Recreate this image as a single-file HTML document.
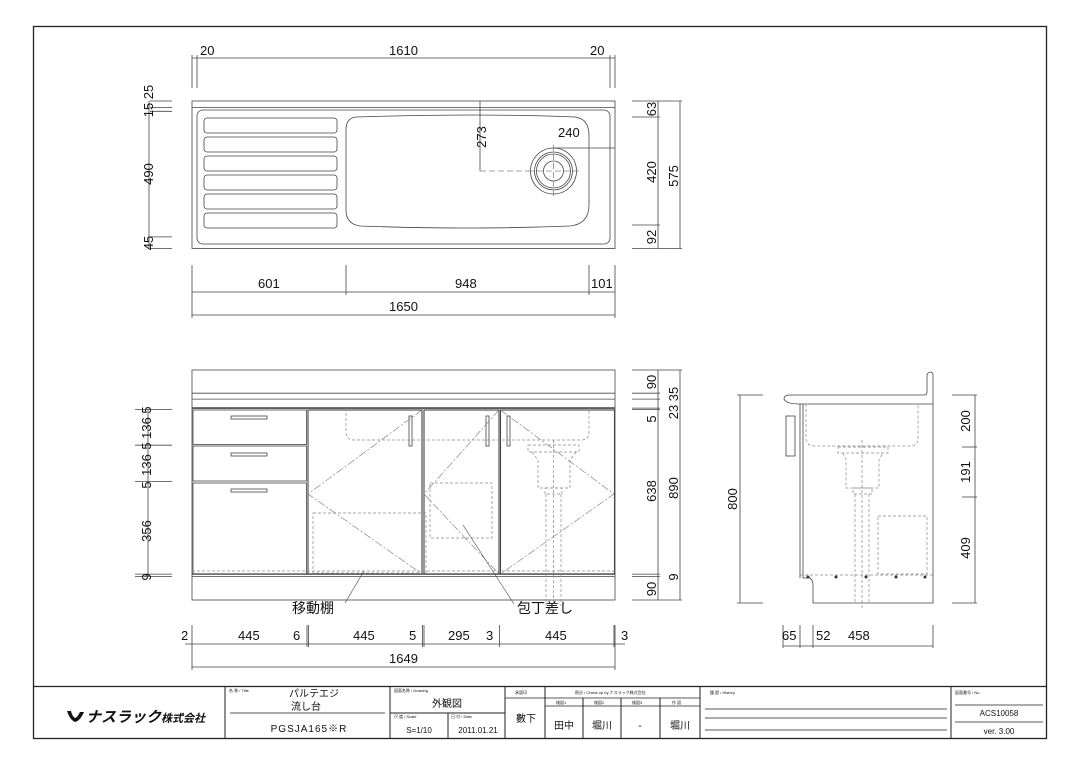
<!DOCTYPE html>
<html><head><meta charset="utf-8"><style>
html,body{margin:0;padding:0;background:#fff;}
svg{display:block;}
text{font-family:"Liberation Sans","Noto Sans CJK JP",sans-serif;fill:#111;}
.d{font-size:13px;}
.s{font-size:4px;fill:#555;}
</style></head><body>
<svg width="1080" height="764" viewBox="0 0 1080 764" xmlns="http://www.w3.org/2000/svg">
<rect x="0" y="0" width="1080" height="764" fill="#fff"/>
<rect x="33.5" y="26.5" width="1013" height="712" fill="none" stroke="#222" stroke-width="1.3"/>

<g stroke="#444" fill="none" stroke-width="0.8">
<!-- TOP VIEW -->
<rect x="192" y="101" width="423" height="147.5"/>
<line x1="192" y1="107.4" x2="615" y2="107.4"/>
<rect x="197" y="110" width="413" height="134" rx="6"/>
<rect x="204" y="118" width="133" height="15" rx="3"/>
<rect x="204" y="137" width="133" height="15" rx="3"/>
<rect x="204" y="156" width="133" height="15" rx="3"/>
<rect x="204" y="175" width="133" height="15" rx="3"/>
<rect x="204" y="194" width="133" height="15" rx="3"/>
<rect x="204" y="213" width="133" height="15" rx="3"/>
<path d="M356 117 Q480 113 575 117 Q589 119 589 135 L589 205 Q589 224 570 226 Q470 230 360 226 Q346 224 346 210 L346 130 Q346 118 356 117 Z"/>
<circle cx="553.5" cy="171" r="23"/>
<circle cx="553.5" cy="171" r="19"/>
<circle cx="553.5" cy="171" r="17"/>
<circle cx="553.5" cy="171" r="10"/>
<line x1="480" y1="171" x2="530" y2="171" stroke-dasharray="6 3" stroke="#888"/>
<line x1="528" y1="171" x2="580" y2="171" stroke-dasharray="6 3" stroke="#888"/>
<line x1="553.5" y1="145" x2="553.5" y2="198" stroke-dasharray="6 3" stroke="#888"/>
<!-- top dims -->
<line x1="192" y1="58" x2="615" y2="58"/>
<line x1="192" y1="55" x2="192" y2="88"/><line x1="197" y1="55" x2="197" y2="88"/>
<line x1="610" y1="55" x2="610" y2="88"/><line x1="615" y1="55" x2="615" y2="88"/>
<line x1="480" y1="101" x2="480" y2="171"/>
<line x1="553.5" y1="148" x2="615" y2="148"/>
<!-- left dims -->
<line x1="150" y1="101" x2="172" y2="101"/>
<line x1="150" y1="107.4" x2="172" y2="107.4"/>
<line x1="150" y1="111.3" x2="172" y2="111.3"/>
<line x1="150" y1="236.9" x2="172" y2="236.9"/>
<line x1="150" y1="248.5" x2="172" y2="248.5"/>
<line x1="149" y1="101" x2="149" y2="248.5"/>
<!-- right dims -->
<line x1="632" y1="101" x2="682" y2="101"/>
<line x1="632" y1="117" x2="660" y2="117"/>
<line x1="632" y1="225" x2="660" y2="225"/>
<line x1="632" y1="248.5" x2="682" y2="248.5"/>
<line x1="658" y1="101" x2="658" y2="248.5"/>
<line x1="680" y1="101" x2="680" y2="248.5"/>
<!-- bottom dims -->
<line x1="192" y1="265" x2="192" y2="318"/>
<line x1="346" y1="265" x2="346" y2="295"/>
<line x1="589" y1="265" x2="589" y2="295"/>
<line x1="615" y1="265" x2="615" y2="318"/>
<line x1="192" y1="292" x2="615" y2="292"/>
<line x1="192" y1="315" x2="615" y2="315"/>

<!-- FRONT VIEW -->
<rect x="192" y="370" width="423" height="230"/>
<line x1="192" y1="393.2" x2="615" y2="393.2"/>
<line x1="192" y1="399.1" x2="615" y2="399.1"/>
<line x1="192" y1="408.1" x2="615" y2="408.1" stroke-width="1.6"/>
<line x1="192" y1="574.1" x2="615" y2="574.1" stroke-width="1.4"/>
<line x1="192" y1="576.4" x2="615" y2="576.4"/>
<rect x="193" y="410" width="113.5" height="34.5"/>
<rect x="193" y="446" width="113.5" height="35"/>
<rect x="193" y="483" width="113.5" height="91"/>
<rect x="231" y="416" width="36" height="3"/><rect x="231" y="453" width="36" height="3"/><rect x="231" y="489" width="36" height="3"/>
<rect x="308" y="410" width="114" height="164" stroke-width="1.1"/>
<rect x="424" y="410" width="75" height="164" stroke-width="1.1"/>
<rect x="500.5" y="410" width="114" height="164" stroke-width="1.1"/>
<rect x="409" y="416" width="3" height="30"/>
<rect x="486" y="416" width="3" height="30"/>
<rect x="507" y="416" width="3" height="30"/>
<g stroke="#777" stroke-width="0.6" stroke-dasharray="8 2 2 2">
<polyline points="422,410 308,494 422,574"/>
<polyline points="499,410 424,494 499,574"/>
<polyline points="500.5,410 614,494 500.5,574"/>
</g>
<g stroke="#888" stroke-width="0.7" stroke-dasharray="3 2">
<path d="M346 408 L346 432 Q346 440 354 440 L581 440 Q589 440 589 432 L589 408"/>
<rect x="528" y="445" width="51" height="7"/>
<path d="M532 452 L538 460 L538 488 L570 488 L570 460 L576 452"/>
<rect x="545" y="488" width="17" height="6"/>
<line x1="546" y1="494" x2="546" y2="606"/><line x1="561" y1="494" x2="561" y2="606"/>
<line x1="553.5" y1="440" x2="553.5" y2="606"/>
<rect x="313" y="513" width="113" height="60"/>
<rect x="430" y="483" width="62" height="55"/>
<line x1="192" y1="571" x2="615" y2="571"/>
</g>
<line x1="364" y1="571" x2="345" y2="603" stroke-width="0.6"/>
<line x1="463" y1="525" x2="514" y2="604" stroke-width="0.6"/>
<line x1="148" y1="409.4" x2="148" y2="576.4"/>
<line x1="135" y1="409.4" x2="172" y2="409.4"/>
<line x1="135" y1="445.2" x2="172" y2="445.2"/>
<line x1="135" y1="481.6" x2="172" y2="481.6"/>
<line x1="135" y1="574.1" x2="172" y2="574.1"/>
<line x1="135" y1="576.4" x2="172" y2="576.4"/>
<line x1="632" y1="370" x2="682" y2="370"/>
<line x1="632" y1="393.2" x2="660" y2="393.2"/>
<line x1="632" y1="399.1" x2="660" y2="399.1"/>
<line x1="632" y1="408.1" x2="660" y2="408.1"/>
<line x1="632" y1="409.4" x2="660" y2="409.4"/>
<line x1="632" y1="574.1" x2="660" y2="574.1"/>
<line x1="632" y1="576.4" x2="660" y2="576.4"/>
<line x1="632" y1="600" x2="682" y2="600"/>
<line x1="658" y1="370" x2="658" y2="600"/>
<line x1="680" y1="370" x2="680" y2="600"/>
<line x1="185" y1="644" x2="625" y2="644"/>
<line x1="192" y1="667" x2="615" y2="667"/>
<line x1="192" y1="625" x2="192" y2="670"/>
<line x1="307" y1="625" x2="307" y2="647"/><line x1="308.5" y1="625" x2="308.5" y2="647"/>
<line x1="422.5" y1="625" x2="422.5" y2="647"/><line x1="424" y1="625" x2="424" y2="647"/>
<line x1="499.5" y1="625" x2="499.5" y2="647"/>
<line x1="614" y1="625" x2="614" y2="647"/><line x1="615" y1="625" x2="615" y2="670"/>

<!-- SIDE VIEW -->
<path d="M790 395 L924 395 Q927 395 927 392 L927 375 Q928 372 931 372 Q933 373 933 375 L933 404 L800 404 Q786 404 784 399 Q784 395 790 395 Z"/>
<line x1="800" y1="404" x2="800" y2="578"/>
<line x1="803" y1="404" x2="803" y2="578"/>
<path d="M803 578 L810 578 Q813 580 813 585 L813 603 L933 603 L933 404"/>
<rect x="786" y="416" width="9" height="40"/>
<g stroke="#888" stroke-width="0.7" stroke-dasharray="3 2">
<path d="M806 404 L806 438 Q806 446 815 446 L910 446 Q918 446 918 438 L918 404"/>
<rect x="838" y="447" width="50" height="6"/>
<path d="M843 453 L846 460 L846 488 L879 488 L879 460 L883 453"/>
<rect x="853" y="488" width="19" height="6"/>
<line x1="855" y1="494" x2="855" y2="603"/><line x1="869" y1="494" x2="869" y2="603"/>
<line x1="862" y1="440" x2="862" y2="610"/>
<rect x="878" y="516" width="49" height="58"/>
<line x1="800" y1="575" x2="933" y2="575"/>
</g>
<g fill="#333" stroke="none">
<circle cx="808" cy="577" r="1.5"/><circle cx="836" cy="577" r="1.5"/><circle cx="866" cy="577" r="1.5"/><circle cx="896" cy="577" r="1.5"/><circle cx="925" cy="577" r="1.5"/>
</g>
<line x1="740" y1="395" x2="740" y2="603"/>
<line x1="737" y1="395" x2="763" y2="395"/><line x1="737" y1="603" x2="763" y2="603"/>
<line x1="975" y1="395" x2="975" y2="603"/>
<line x1="952" y1="395" x2="977" y2="395"/>
<line x1="962" y1="447" x2="977" y2="447"/>
<line x1="962" y1="497" x2="977" y2="497"/>
<line x1="952" y1="603" x2="977" y2="603"/>
<line x1="783" y1="646" x2="933" y2="646"/>
<line x1="783" y1="625" x2="783" y2="648"/>
<line x1="800" y1="625" x2="800" y2="648"/>
<line x1="813" y1="625" x2="813" y2="648"/>
<line x1="933" y1="625" x2="933" y2="648"/>
</g>

<g class="d">
<text x="200" y="55">20</text><text x="389" y="55">1610</text><text x="590" y="55">20</text>
<text x="558" y="137">240</text>
<text x="258" y="288">601</text><text x="455" y="288">948</text><text x="591" y="288">101</text>
<text x="389" y="311">1650</text>
<text x="181" y="640">2</text><text x="238" y="640">445</text><text x="293" y="640">6</text>
<text x="353" y="640">445</text><text x="409" y="640">5</text><text x="448" y="640">295</text>
<text x="486" y="640">3</text><text x="545" y="640">445</text><text x="621" y="640">3</text>
<text x="389" y="663">1649</text>
<text x="782" y="640">65</text><text x="816" y="640">52</text><text x="848" y="640">458</text>
<text x="292" y="613" font-size="14">移動棚</text>
<text x="517" y="613" font-size="14">包丁差し</text>
</g>
<g class="d" text-anchor="middle">
<text transform="translate(153,101) rotate(-90)">15 25</text>
<text transform="translate(153,174) rotate(-90)">490</text>
<text transform="translate(153,243) rotate(-90)">45</text>
<text transform="translate(486,137) rotate(-90)">273</text>
<text transform="translate(656,109) rotate(-90)">63</text>
<text transform="translate(656,172) rotate(-90)">420</text>
<text transform="translate(656,237) rotate(-90)">92</text>
<text transform="translate(678,176) rotate(-90)">575</text>
<text transform="translate(151,410) rotate(-90)">5</text>
<text transform="translate(151,428) rotate(-90)">136</text>
<text transform="translate(151,446) rotate(-90)">5</text>
<text transform="translate(151,465) rotate(-90)">136</text>
<text transform="translate(151,485) rotate(-90)">5</text>
<text transform="translate(151,531) rotate(-90)">356</text>
<text transform="translate(151,577) rotate(-90)">9</text>
<text transform="translate(656,382) rotate(-90)">90</text>
<text transform="translate(656,419) rotate(-90)">5</text>
<text transform="translate(656,491) rotate(-90)">638</text>
<text transform="translate(678,577) rotate(-90)">9</text>
<text transform="translate(656,589) rotate(-90)">90</text>
<text transform="translate(678,403) rotate(-90)">23 35</text>
<text transform="translate(678,488) rotate(-90)">890</text>
<text transform="translate(737,499) rotate(-90)">800</text>
<text transform="translate(970,421) rotate(-90)">200</text>
<text transform="translate(970,472) rotate(-90)">191</text>
<text transform="translate(970,548) rotate(-90)">409</text>
</g>

<g stroke="#222" fill="none" stroke-width="1">
<line x1="33" y1="686.5" x2="1047" y2="686.5" stroke-width="1.3"/>
<line x1="225" y1="686" x2="225" y2="739"/>
<line x1="390" y1="686" x2="390" y2="739"/>
<line x1="505" y1="686" x2="505" y2="739"/>
<line x1="545" y1="686" x2="545" y2="739"/>
<line x1="700" y1="686" x2="700" y2="739"/>
<line x1="951" y1="686" x2="951" y2="739"/>
<line x1="230" y1="713" x2="385" y2="713" stroke-width="0.7"/>
<line x1="390" y1="713" x2="505" y2="713"/>
<line x1="448" y1="713" x2="448" y2="739"/>
<line x1="505" y1="698" x2="700" y2="698" stroke-width="0.7"/>
<line x1="545" y1="706" x2="700" y2="706" stroke-width="0.7"/>
<line x1="583" y1="698" x2="583" y2="739"/>
<line x1="621" y1="698" x2="621" y2="739"/>
<line x1="660" y1="698" x2="660" y2="739"/>
<line x1="705" y1="709" x2="947" y2="709" stroke-width="0.7"/>
<line x1="705" y1="718" x2="947" y2="718" stroke-width="0.7"/>
<line x1="705" y1="730" x2="947" y2="730" stroke-width="0.7"/>
<line x1="955" y1="705" x2="1043" y2="705" stroke-width="0.7"/>
<line x1="955" y1="722" x2="1043" y2="722" stroke-width="0.7"/>
</g>
<path d="M67 711 Q70 720 75 722 Q80 721 84 712 L80 712 Q77 718 75 718 Q72 716 71 711 Z" fill="#111"/>
<text x="86" y="722" font-size="15" font-weight="bold" font-style="italic">ナスラック<tspan font-size="11">株式会社</tspan></text>
<g class="s">
<text x="229" y="692">名 称 / Title</text>
<text x="394" y="692">図面名称 / Drawing</text>
<text x="394" y="718">尺 度 / Scale</text>
<text x="451" y="718">日 付 / Date</text>
<text x="515" y="694">承認印</text>
<text x="575" y="694">照合 / Check up by ナスラック株式会社</text>
<text x="710" y="694">履 歴 / History</text>
<text x="955" y="694">図面番号 / No.</text>
<text x="556" y="704">検図1</text><text x="594" y="704">検図2</text><text x="632" y="704">検図3</text><text x="672" y="704">作 図</text>
</g>
<g font-size="10" text-anchor="middle">
<text x="314" y="697">パルテエジ</text>
<text x="306" y="710">流し台</text>
<text x="309" y="732" letter-spacing="1">PGSJA165※R</text>
<text x="447" y="707">外観図</text>
<text x="419" y="733" font-size="8">S=1/10</text>
<text x="478" y="733" font-size="8">2011.01.21</text>
<text x="526" y="722">數下</text>
<text x="564" y="729">田中</text>
<text x="602" y="729">堀川</text>
<text x="640" y="729">-</text>
<text x="680" y="729">堀川</text>
<text x="999" y="716" font-size="8">ACS10058</text>
<text x="999" y="734" font-size="8">ver. 3.00</text>
</g>
</svg>
</body></html>
